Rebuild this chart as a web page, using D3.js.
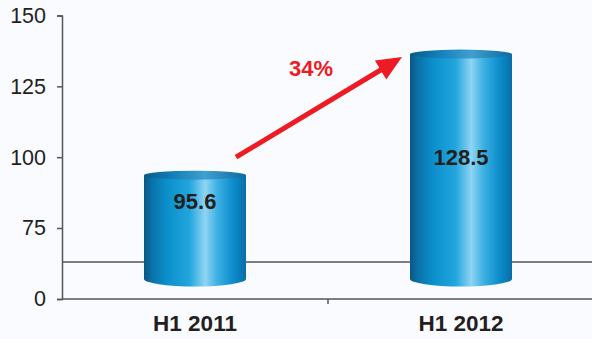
<!DOCTYPE html>
<html>
<head>
<meta charset="utf-8">
<script src="https://cdn.jsdelivr.net/npm/d3@7/dist/d3.min.js"></script>
<style>
  html, body { margin: 0; padding: 0; background: #f9fbfe; }
  svg { display: block; font-family: "Liberation Sans", Arial, sans-serif; }
</style>
</head>
<body>
<svg id="chart" width="592" height="339"></svg>
<script>
// Half-year values
const categories = ["H1 2011", "H1 2012"];
const values = [95.6, 128.5];
const valueLabels = ["95.6", "128.5"];
const tickValues = [0, 75, 100, 125, 150];
const growthLabel = "34%";

(function draw() {
  const W = 592;
  const svg = d3.select("#chart");

  // Back-wall axis: broken between 0 and 75
  const y = d3.scaleLinear().domain([0, 75, 150]).range([299, 228, 15.5]);
  // Front plane of the cylinders (perspective is larger than the back wall)
  const yFront = d3.scaleLinear().domain([0, 75, 150]).range([279, 251, -25]);
  const x = d3.scaleBand().domain(categories).range([62, 594]).paddingInner(0).paddingOuter(0);

  const axisColor = "#555";

  // Break line
  svg.append("line")
    .attr("x1", 62).attr("x2", W)
    .attr("y1", 262).attr("y2", 262)
    .attr("stroke", axisColor).attr("stroke-width", 1.3);

  // Y axis
  const yAxis = svg.append("g")
    .attr("transform", "translate(62,0)")
    .call(d3.axisLeft(y).tickValues(tickValues).tickSize(5).tickPadding(11).tickFormat(d3.format("d")));
  yAxis.select(".domain").attr("stroke", axisColor).attr("stroke-width", 1.5);
  yAxis.selectAll(".tick line").attr("stroke", axisColor).attr("stroke-width", 1.5);
  yAxis.selectAll(".tick text")
    .attr("fill", "#231f20").attr("font-size", 21.5)
    .attr("font-family", "Liberation Sans, Arial, sans-serif");

  // X axis
  const xAxis = svg.append("g")
    .attr("transform", `translate(0,${y(0)})`)
    .call(d3.axisBottom(x).tickSize(0).tickPadding(16));
  xAxis.select(".domain").remove();
  svg.append("line")
    .attr("x1", 62).attr("x2", W)
    .attr("y1", y(0)).attr("y2", y(0))
    .attr("stroke", axisColor).attr("stroke-width", 1.5);
  // separator tick between the categories
  svg.append("line")
    .attr("x1", x(categories[1])).attr("x2", x(categories[1]))
    .attr("y1", y(0)).attr("y2", y(0) + 5)
    .attr("stroke", axisColor).attr("stroke-width", 1.5);
  xAxis.selectAll(".tick text")
    .attr("fill", "#231f20").attr("font-size", 22.5).attr("font-weight", "bold")
    .attr("font-family", "Liberation Sans, Arial, sans-serif");

  // Gradients
  const defs = svg.append("defs");
  const bodyGrad = defs.append("linearGradient").attr("id", "cylBody")
    .attr("x1", "0%").attr("x2", "100%").attr("y1", "0%").attr("y2", "0%");
  [[0, "#0b5784"], [0.08, "#0a72a8"], [0.22, "#0a8fcb"], [0.45, "#23a6dd"],
   [0.6, "#8fd4f3"], [0.72, "#3cb0e3"], [0.88, "#0b8ccb"], [1, "#0a6ea6"]]
    .forEach(([o, c]) => bodyGrad.append("stop").attr("offset", o).attr("stop-color", c));
  const capGrad = defs.append("linearGradient").attr("id", "cylTop")
    .attr("x1", "0%").attr("x2", "100%").attr("y1", "0%").attr("y2", "0%");
  [[0, "#0a5a88"], [0.3, "#1581ba"], [0.6, "#3f9fcf"], [1, "#0d6a9e"]]
    .forEach(([o, c]) => capGrad.append("stop").attr("offset", o).attr("stop-color", c));

  // Cylinders
  const barW = 102;
  const rxC = barW / 2, ryTop = 4.5, ryBot = 7.5;
  const labelOffsets = [34, 111];
  const bars = svg.append("g").selectAll("g").data(values).join("g");
  bars.each(function (v, i) {
    const g = d3.select(this);
    const cx = x(categories[i]) + x.bandwidth() / 2;
    const yt = yFront(v), yb = yFront(0);
    g.append("path")
      .attr("d", `M${cx - rxC},${yt} L${cx - rxC},${yb} A${rxC},${ryBot} 0 0 0 ${cx + rxC},${yb} L${cx + rxC},${yt} Z`)
      .attr("fill", "url(#cylBody)");
    g.append("ellipse")
      .attr("cx", cx).attr("cy", yt).attr("rx", rxC).attr("ry", ryTop)
      .attr("fill", "url(#cylTop)");
    g.append("text")
      .attr("x", cx).attr("y", yt + labelOffsets[i])
      .attr("text-anchor", "middle")
      .attr("font-size", 22).attr("font-weight", "bold").attr("fill", "#231f20")
      .text(valueLabels[i]);
  });

  // Growth arrow from the first cylinder to the second
  const c0 = x(categories[0]) + x.bandwidth() / 2;
  const c1 = x(categories[1]) + x.bandwidth() / 2;
  const start = [c0 + rxC - 10, yFront(values[0]) - 18];
  const tip = [c1 - rxC - 8, yFront(values[1]) + 3];
  const ang = Math.atan2(tip[1] - start[1], tip[0] - start[0]);
  const headLen = 25, headHalf = 11;
  const base = [tip[0] - headLen * Math.cos(ang), tip[1] - headLen * Math.sin(ang)];
  svg.append("line")
    .attr("x1", start[0]).attr("y1", start[1])
    .attr("x2", base[0] + 2 * Math.cos(ang)).attr("y2", base[1] + 2 * Math.sin(ang))
    .attr("stroke", "#ed1c24").attr("stroke-width", 5);
  const nx = -Math.sin(ang), ny = Math.cos(ang);
  svg.append("path")
    .attr("d", `M${tip[0]},${tip[1]} L${base[0] + nx * headHalf},${base[1] + ny * headHalf} L${base[0] - nx * headHalf},${base[1] - ny * headHalf} Z`)
    .attr("fill", "#ed1c24");
  svg.append("text")
    .attr("x", 311).attr("y", 76)
    .attr("text-anchor", "middle")
    .attr("font-size", 22).attr("font-weight", "bold").attr("fill", "#ed1c24")
    .text(growthLabel);
})();
</script>
</body>
</html>
